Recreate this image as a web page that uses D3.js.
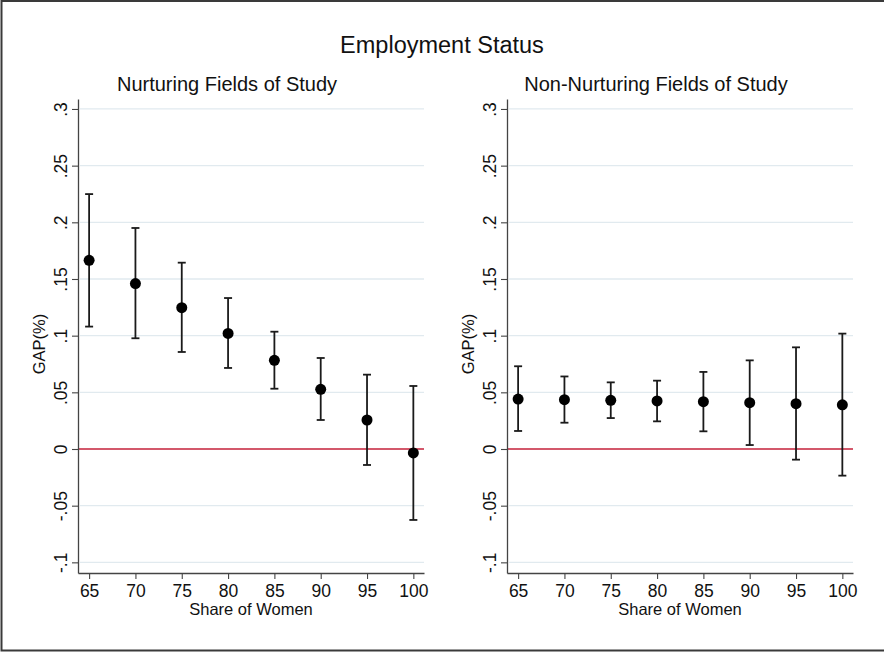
<!DOCTYPE html>
<html>
<head>
<meta charset="utf-8">
<script src="https://cdn.jsdelivr.net/npm/d3@7"></script>
<style>
  body { margin: 0; background: #fff; }
  svg { display: block; font-family: "Liberation Sans", Arial, Helvetica, sans-serif; }
</style>
</head>
<body>
<div id="chart"></div>
<script>
// share of women (x categories)
const shares = [65, 70, 75, 80, 85, 90, 95, 100];

// Nurturing fields: estimate with 95% CI
const nurtEst   = [0.1665, 0.146, 0.1247, 0.102, 0.0782, 0.0527, 0.0256, -0.0035];
const nurtLow   = [0.108, 0.0977, 0.0856, 0.0715, 0.0532, 0.0256, -0.0141, -0.0626];
const nurtHigh  = [0.2249, 0.195, 0.1644, 0.1332, 0.1035, 0.0803, 0.0656, 0.0556];

// Non-nurturing fields
const nonEst  = [0.0441, 0.0435, 0.043, 0.0424, 0.0418, 0.0409, 0.040, 0.039];
const nonLow  = [0.0159, 0.0232, 0.0273, 0.0244, 0.0156, 0.0035, -0.0094, -0.0235];
const nonHigh = [0.073, 0.064, 0.0588, 0.0603, 0.068, 0.0782, 0.0897, 0.1018];

const yTicks = [-0.1, -0.05, 0, 0.05, 0.1, 0.15, 0.2, 0.25, 0.3];
const yTickLabels = ["-.1", "-.05", "0", ".05", ".1", ".15", ".2", ".25", ".3"];

const W = 884, H = 652;

const svg = d3.select("#chart").append("svg")
    .attr("width", W)
    .attr("height", H);

// outer frame (right edge falls outside the picture)
svg.append("path")
    .attr("d", "M884,1 H1.5 V650.5 H884")
    .attr("fill", "none")
    .attr("stroke", "#3a3a3a")
    .attr("stroke-width", 2);

svg.append("text")
    .attr("x", 442)
    .attr("y", 53)
    .attr("text-anchor", "middle")
    .attr("font-size", "23.5px")
    .attr("fill", "#111")
    .text("Employment Status");

function panel(left, title, est, low, high) {
  const top = 99, bottom = 573, width = 346;

  const x = d3.scaleLinear().domain([63.8, 101.15]).range([left, left + width]);
  const y = d3.scaleLinear().domain([-0.1094, 0.3088]).range([bottom, top]);

  const g = svg.append("g");

  // subtitle is centred on the whole sub-graph, axis labels included
  g.append("text")
      .attr("x", left + width / 2 - 24)
      .attr("y", 91)
      .attr("text-anchor", "middle")
      .attr("font-size", "20px")
      .attr("fill", "#111")
      .text(title);

  // gridlines
  g.selectAll(".grid")
      .data(yTicks.filter(d => d !== 0))
      .join("line")
      .attr("class", "grid")
      .attr("x1", left + 2)
      .attr("x2", left + width)
      .attr("y1", d => y(d))
      .attr("y2", d => y(d))
      .attr("stroke", "#e1eaef")
      .attr("stroke-width", 1.3);

  // zero line
  g.append("line")
      .attr("x1", left + 1)
      .attr("x2", left + width)
      .attr("y1", y(0))
      .attr("y2", y(0))
      .attr("stroke", "#c4203a")
      .attr("stroke-width", 1.6);

  // y axis
  const yAxis = d3.axisLeft(y)
      .tickValues(yTicks)
      .tickFormat((d, i) => yTickLabels[i])
      .tickSize(6)
      .tickSizeOuter(0);
  const ya = g.append("g")
      .attr("transform", `translate(${left},0)`)
      .call(yAxis);
  ya.attr("font-size", null).attr("font-family", null);
  ya.select(".domain").attr("stroke", "#444").attr("stroke-width", 1.3);
  ya.selectAll(".tick line").attr("stroke", "#444").attr("stroke-width", 1.1);
  ya.selectAll(".tick text")
      .style("font-size", "17.5px")
      .attr("fill", "#111")
      .attr("text-anchor", "middle")
      .attr("transform", "rotate(-90)")
      .attr("x", null)
      .attr("dy", null)
      .attr("y", -11);

  // x axis
  const xAxis = d3.axisBottom(x)
      .tickValues(shares)
      .tickFormat(d3.format("d"))
      .tickSize(6)
      .tickSizeOuter(0);
  const xa = g.append("g")
      .attr("transform", `translate(0,${bottom})`)
      .call(xAxis);
  xa.attr("font-size", null).attr("font-family", null);
  xa.select(".domain").attr("stroke", "#444").attr("stroke-width", 1.3);
  xa.selectAll(".tick line").attr("stroke", "#444").attr("stroke-width", 1.1);
  xa.selectAll(".tick text")
      .style("font-size", "17.5px")
      .attr("fill", "#111")
      .attr("dy", null)
      .attr("y", 23.5);

  // axis titles
  g.append("text")
      .attr("x", left + width / 2)
      .attr("y", 615)
      .attr("text-anchor", "middle")
      .attr("font-size", "16.5px")
      .attr("fill", "#111")
      .text("Share of Women");

  g.append("text")
      .attr("transform", `translate(${left - 33},${(top + bottom) / 2 + 8}) rotate(-90)`)
      .attr("text-anchor", "middle")
      .attr("font-size", "16.5px")
      .attr("fill", "#111")
      .text("GAP(%)");

  const rows = shares.map((s, i) => ({s: s, est: est[i], lo: low[i], hi: high[i]}));

  // error bars
  g.selectAll(".bar")
      .data(rows)
      .join("line")
      .attr("class", "bar")
      .attr("x1", d => x(d.s))
      .attr("x2", d => x(d.s))
      .attr("y1", d => y(d.lo))
      .attr("y2", d => y(d.hi))
      .attr("stroke", "#1a1a1a")
      .attr("stroke-width", 1.8);

  g.selectAll(".capHi")
      .data(rows)
      .join("line")
      .attr("class", "capHi")
      .attr("x1", d => x(d.s) - 4)
      .attr("x2", d => x(d.s) + 4)
      .attr("y1", d => y(d.hi))
      .attr("y2", d => y(d.hi))
      .attr("stroke", "#1a1a1a")
      .attr("stroke-width", 1.8);

  g.selectAll(".capLo")
      .data(rows)
      .join("line")
      .attr("class", "capLo")
      .attr("x1", d => x(d.s) - 4)
      .attr("x2", d => x(d.s) + 4)
      .attr("y1", d => y(d.lo))
      .attr("y2", d => y(d.lo))
      .attr("stroke", "#1a1a1a")
      .attr("stroke-width", 1.8);

  g.selectAll(".pt")
      .data(rows)
      .join("circle")
      .attr("class", "pt")
      .attr("cx", d => x(d.s))
      .attr("cy", d => y(d.est))
      .attr("r", 5.5)
      .attr("fill", "#000");
}

panel(78, "Nurturing Fields of Study", nurtEst, nurtLow, nurtHigh);
panel(507, "Non-Nurturing Fields of Study", nonEst, nonLow, nonHigh);
</script>
</body>
</html>
